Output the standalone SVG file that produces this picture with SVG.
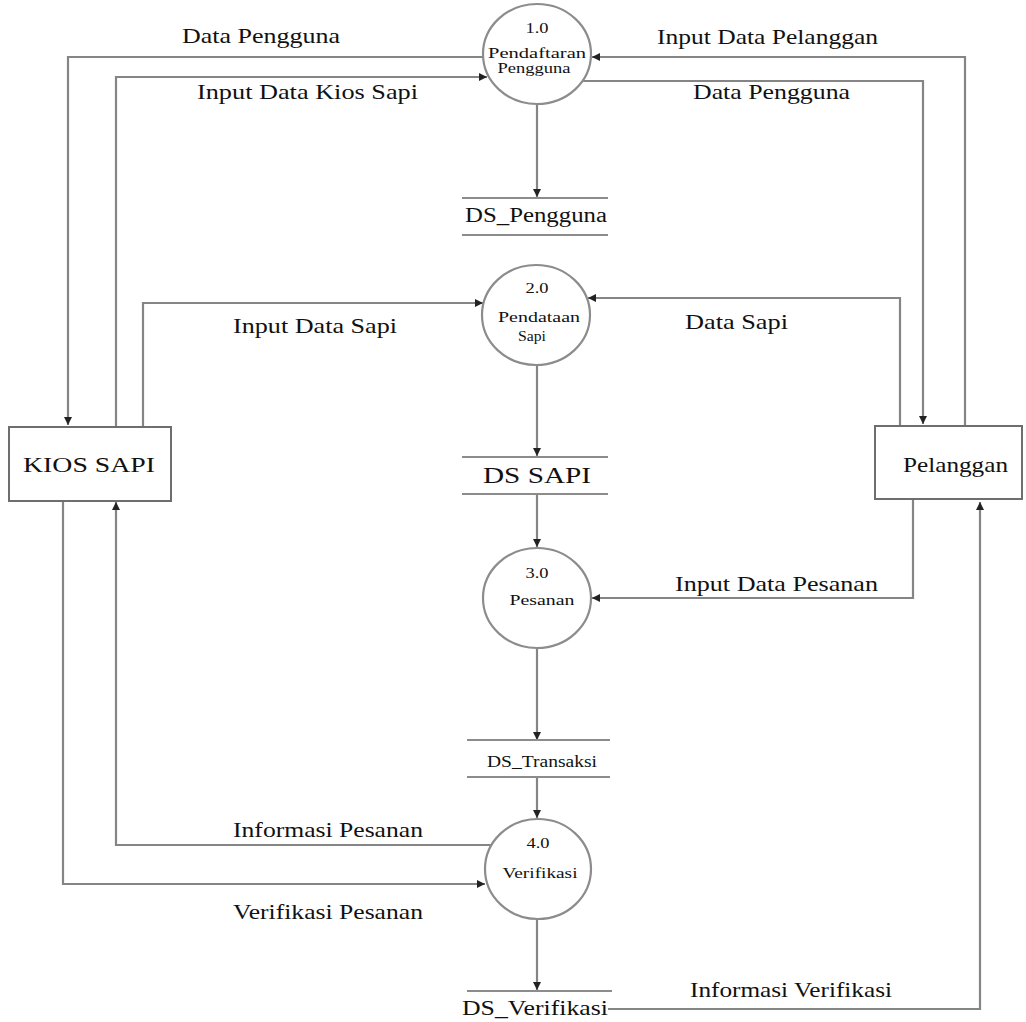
<svg xmlns="http://www.w3.org/2000/svg" width="1026" height="1022" viewBox="0 0 1026 1022">
<style>
.bg{fill:#ffffff}
.proc{fill:#ffffff;stroke:#8c8c8c;stroke-width:2.2}
.ent{fill:#ffffff;stroke:#6e6e6e;stroke-width:2}
.store{stroke:#8c8c8c;stroke-width:2.2}
.flow{fill:none;stroke:#858585;stroke-width:2.2;marker-end:url(#arr)}
.t{font-family:"Liberation Serif","Times New Roman",serif;fill:#111111}
.lbl{font-size:21px}
.ptxt{font-size:14px;text-anchor:middle}
</style>
<defs>
<marker id="arr" markerWidth="9" markerHeight="9" refX="8" refY="4" orient="auto" markerUnits="userSpaceOnUse">
<path d="M0,0 L8,4 L0,8 z" fill="#222222"/>
</marker>
</defs>
<rect class="bg" x="0" y="0" width="1026" height="1022"/>

<g id="connectors">
<path id="f1" class="flow" d="M483 57 H68 V425"/>
<path id="f2" class="flow" d="M116 427 V77 H487"/>
<path id="f3" class="flow" d="M965 426 V57 H592"/>
<path id="f4" class="flow" d="M582 81 H923 V424"/>
<path id="f5" class="flow" d="M537 104 V197"/>
<path id="f6" class="flow" d="M143 427 V303 H483"/>
<path id="f7" class="flow" d="M900 426 V298 H588"/>
<path id="f8" class="flow" d="M537 365 V456"/>
<path id="f9" class="flow" d="M537 494 V547"/>
<path id="f10" class="flow" d="M913 500 V598 H592"/>
<path id="f11" class="flow" d="M537 648 V740"/>
<path id="f12" class="flow" d="M537 777 V818"/>
<path id="f13" class="flow" d="M491 845 H116 V502"/>
<path id="f14" class="flow" d="M63 501 V884 H485"/>
<path id="f15" class="flow" d="M537 919 V990"/>
<path id="f16" class="flow" d="M608 1009 H980 V502"/>
</g>

<g id="labels">
<text class="t lbl" x="182" y="43" textLength="158" lengthAdjust="spacingAndGlyphs">Data Pengguna</text>
<text class="t lbl" x="197" y="99" textLength="221" lengthAdjust="spacingAndGlyphs">Input Data Kios Sapi</text>
<text class="t lbl" x="657" y="44" textLength="221" lengthAdjust="spacingAndGlyphs">Input Data Pelanggan</text>
<text class="t lbl" x="693" y="99" textLength="157" lengthAdjust="spacingAndGlyphs">Data Pengguna</text>
<text class="t lbl" x="233" y="333" textLength="164" lengthAdjust="spacingAndGlyphs">Input Data Sapi</text>
<text class="t lbl" x="685" y="329" textLength="103" lengthAdjust="spacingAndGlyphs">Data Sapi</text>
<text class="t lbl" x="675" y="591" textLength="203" lengthAdjust="spacingAndGlyphs">Input Data Pesanan</text>
<text class="t lbl" x="233" y="837" textLength="190" lengthAdjust="spacingAndGlyphs">Informasi Pesanan</text>
<text class="t lbl" x="233" y="919" textLength="190" lengthAdjust="spacingAndGlyphs">Verifikasi Pesanan</text>
<text class="t lbl" x="690" y="997" textLength="202" lengthAdjust="spacingAndGlyphs">Informasi Verifikasi</text>
</g>

<g id="kios-sapi">
<rect class="ent" x="9" y="427" width="162" height="74"/>
<text class="t" x="23" y="472" font-size="22" textLength="132" lengthAdjust="spacingAndGlyphs">KIOS SAPI</text>
</g>

<g id="pelanggan">
<rect class="ent" x="875" y="426" width="147" height="73"/>
<text class="t" x="903" y="472" font-size="22" textLength="105" lengthAdjust="spacingAndGlyphs">Pelanggan</text>
</g>

<g id="p1">
<ellipse class="proc" cx="537" cy="54" rx="54" ry="50"/>
<text class="t ptxt" x="537" y="33" font-size="15" textLength="23" lengthAdjust="spacingAndGlyphs">1.0</text>
<text class="t ptxt" x="537" y="58" textLength="98" lengthAdjust="spacingAndGlyphs">Pendaftaran</text>
<text class="t ptxt" x="534" y="73" textLength="73" lengthAdjust="spacingAndGlyphs">Pengguna</text>
</g>

<g id="p2">
<ellipse class="proc" cx="536" cy="315" rx="54" ry="50"/>
<text class="t ptxt" x="537" y="293" font-size="15" textLength="23" lengthAdjust="spacingAndGlyphs">2.0</text>
<text class="t ptxt" x="539" y="322" textLength="82" lengthAdjust="spacingAndGlyphs">Pendataan</text>
<text class="t ptxt" x="532" y="341" font-size="15" textLength="28" lengthAdjust="spacingAndGlyphs">Sapi</text>
</g>

<g id="p3">
<ellipse class="proc" cx="537" cy="598" rx="54" ry="50"/>
<text class="t ptxt" x="537" y="578" font-size="15" textLength="23" lengthAdjust="spacingAndGlyphs">3.0</text>
<text class="t ptxt" x="542" y="605" textLength="65" lengthAdjust="spacingAndGlyphs">Pesanan</text>
</g>

<g id="p4">
<ellipse class="proc" cx="538" cy="869" rx="53" ry="50"/>
<text class="t ptxt" x="538" y="848" font-size="15" textLength="23" lengthAdjust="spacingAndGlyphs">4.0</text>
<text class="t ptxt" x="540" y="878" textLength="75" lengthAdjust="spacingAndGlyphs">Verifikasi</text>
</g>

<g id="ds-pengguna">
<line class="store" x1="462" y1="198" x2="608" y2="198"/>
<line class="store" x1="462" y1="235" x2="608" y2="235"/>
<text class="t" x="465" y="222" font-size="20" textLength="142" lengthAdjust="spacingAndGlyphs">DS_Pengguna</text>
</g>

<g id="ds-sapi">
<line class="store" x1="462" y1="457" x2="608" y2="457"/>
<line class="store" x1="462" y1="494" x2="608" y2="494"/>
<text class="t" x="483" y="483" font-size="24" textLength="108" lengthAdjust="spacingAndGlyphs">DS SAPI</text>
</g>

<g id="ds-transaksi">
<line class="store" x1="467" y1="740" x2="610" y2="740"/>
<line class="store" x1="467" y1="777" x2="610" y2="777"/>
<text class="t" x="487" y="767" font-size="16" textLength="110" lengthAdjust="spacingAndGlyphs">DS_Transaksi</text>
</g>

<g id="ds-verifikasi">
<line class="store" x1="467" y1="991" x2="612" y2="991"/>
<text class="t" x="462" y="1015" font-size="21" textLength="146" lengthAdjust="spacingAndGlyphs">DS_Verifikasi</text>
</g>
</svg>
